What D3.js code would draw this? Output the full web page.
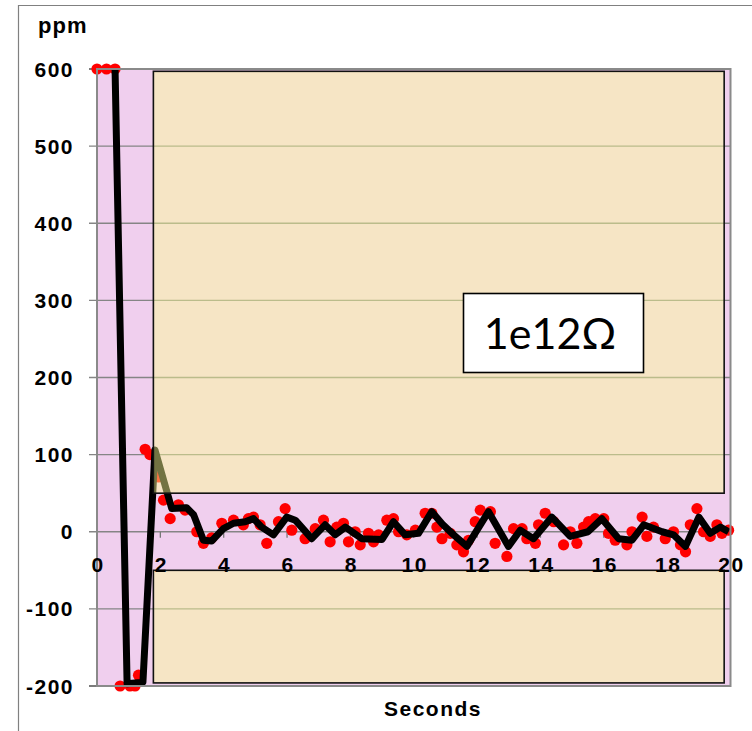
<!DOCTYPE html>
<html><head><meta charset="utf-8">
<script src="https://cdn.jsdelivr.net/npm/d3@7"></script>
<style>html,body{margin:0;padding:0;background:#fff;}svg{display:block;}</style>
</head><body>
<svg id="chart" width="752" height="731"></svg>
<script>
// ---- data ----
const yTicks = [-200, -100, 0, 100, 200, 300, 400, 500, 600];
const xTicks = [0, 2, 4, 6, 8, 10, 12, 14, 16, 18, 20];
const dotTime = [0,0.3,0.57,0.73,1.04,1.2,1.31,1.52,1.67,1.94,2.1,2.31,2.57,2.78,3.15,3.36,3.62,3.94,4.31,4.62,4.78,4.94,5.15,5.36,5.73,5.94,6.15,6.57,6.89,7.15,7.36,7.57,7.78,7.94,8.15,8.31,8.57,8.73,8.89,9.15,9.36,9.52,9.78,10.05,10.36,10.57,10.73,10.89,11.15,11.36,11.57,11.73,11.94,12.1,12.42,12.57,12.94,13.15,13.42,13.57,13.84,13.94,14.15,14.42,14.73,14.94,15.15,15.36,15.52,15.73,16.0,16.15,16.36,16.73,16.89,17.21,17.36,17.57,17.94,18.2,18.42,18.58,18.73,18.94,19.15,19.36,19.57,19.73,19.94];
const dotPpm = [600,600,600,-200,-200,-200,-186,107,100,71,41,17,35,28,0,-15,-8,11,15,9,17,19,9,-15,13,30,2,-9,4,15,-13,6,11,-13,0,-17,-2,-13,-4,15,17,0,-4,2,24,24,6,-9,-2,-17,-26,-11,13,28,26,-15,-32,4,4,-9,-15,9,24,13,-17,0,-15,6,13,17,17,-2,-11,-17,0,19,-6,6,-9,0,-17,-26,9,30,0,-6,9,-2,2];
const lineTime = [0.57,0.95,1.45,1.83,2.36,2.83,3.05,3.36,3.62,3.99,4.31,4.68,4.94,5.2,5.57,5.99,6.26,6.78,7.2,7.52,7.84,8.36,9.0,9.36,9.73,10.15,10.57,10.9,11.26,11.68,12.36,12.99,13.36,13.78,14.36,14.94,15.5,15.94,16.47,16.89,17.26,17.84,18.2,18.58,19.0,19.36,19.68,19.94];
const linePpm = [600,-197,-195,106,30,31,22,-11,-12,4,11,13,17,6,-4,19,15,-9,9,-4,6,-9,-10,13,-4,-2,26,10,-4,-19,26,-19,2,-9,19,-6,0,17,-9,-11,9,0,-4,-19,19,-2,6,0];
const zoneTime = [1.78, 19.8];
const zoneUpper = [50, 597];
const zoneLower = [-196, -50];
const boxLabel = "1e12Ω";

// ---- chart ----
const svg = d3.select("#chart");
const x = d3.scaleLinear().domain([0, 20]).range([97, 730.5]);
const y = d3.scaleLinear().domain([-200, 600]).range([686, 69]);
const font = "'Liberation Sans', Arial, sans-serif";

// outer frame
svg.append("path").attr("d", "M18.5,731 V5.5 H752").attr("fill", "none").attr("stroke", "#808080").attr("stroke-width", 1.2);

// plot background
svg.append("rect").attr("x", x(0)).attr("y", y(600)).attr("width", x(20) - x(0)).attr("height", y(-200) - y(600)).attr("fill", "#f0cfee");

// gridlines with outside ticks
svg.append("g").selectAll("line").data(yTicks.filter(d => d > -200 && d < 600)).join("line")
  .attr("x1", 89).attr("x2", x(20)).attr("y1", d => y(d)).attr("y2", d => y(d))
  .attr("stroke", "#858585").attr("stroke-width", 1.3);
svg.append("g").selectAll("line").data([-200, 600]).join("line")
  .attr("x1", 89).attr("x2", x(0)).attr("y1", d => y(d)).attr("y2", d => y(d))
  .attr("stroke", "#333").attr("stroke-width", 1.3);

// x axis at zero: small ticks
svg.append("g").selectAll("line").data(xTicks.filter(d => d > 0 && d < 20)).join("line")
  .attr("x1", d => x(d)).attr("x2", d => x(d)).attr("y1", y(0)).attr("y2", y(0) + 6)
  .attr("stroke", "#777").attr("stroke-width", 1.3);

// red data points
svg.append("g").selectAll("circle").data(dotTime.map((t, i) => [t, dotPpm[i]])).join("circle")
  .attr("cx", d => x(d[0])).attr("cy", d => y(d[1])).attr("r", 5.6).attr("fill", "#ff0000");

// black line
const line = d3.line().x(d => x(d[0])).y(d => y(d[1]));
svg.append("path").datum(lineTime.map((t, i) => [t, linePpm[i]]))
  .attr("d", line).attr("fill", "none").attr("stroke", "#000").attr("stroke-width", 7)
  .attr("stroke-linejoin", "round").attr("stroke-linecap", "butt");

// translucent zones
[zoneUpper, zoneLower].forEach(z => {
  svg.append("rect").attr("x", x(zoneTime[0])).attr("y", y(z[1]))
    .attr("width", x(zoneTime[1]) - x(zoneTime[0])).attr("height", y(z[0]) - y(z[1]))
    .attr("fill", "#fdff93").attr("fill-opacity", 0.45)
    .attr("stroke", "#111").attr("stroke-width", 1.6);
});

// plot border
svg.append("rect").attr("x", x(0)).attr("y", y(600)).attr("width", x(20) - x(0)).attr("height", y(-200) - y(600))
  .attr("fill", "none").attr("stroke", "#8a8a8a").attr("stroke-width", 2);

// y tick labels
svg.append("g").selectAll("text").data(yTicks).join("text")
  .attr("x", 74).attr("y", d => y(d)).attr("dy", "0.36em").attr("text-anchor", "end")
  .attr("font-family", font).attr("font-weight", "bold").attr("font-size", 21).attr("letter-spacing", 1.5)
  .attr("fill", "#000").text(d => d);

// x tick labels
svg.append("g").selectAll("text").data(xTicks).join("text")
  .attr("x", d => x(d) + 1).attr("y", 572).attr("text-anchor", "middle")
  .attr("font-family", font).attr("font-weight", "bold").attr("font-size", 21).attr("letter-spacing", 1.5)
  .attr("fill", "#000").text(d => d);

// axis titles
svg.append("text").attr("x", 38).attr("y", 33).attr("font-family", font).attr("font-weight", "bold")
  .attr("font-size", 22).attr("letter-spacing", 1).text("ppm");
svg.append("text").attr("x", 433).attr("y", 716).attr("text-anchor", "middle").attr("font-family", font)
  .attr("font-weight", "bold").attr("font-size", 21).attr("letter-spacing", 1.5).text("Seconds");

// text box
svg.append("rect").attr("x", 463.5).attr("y", 293.5).attr("width", 180).attr("height", 79)
  .attr("fill", "#fff").attr("stroke", "#000").attr("stroke-width", 1.6);
svg.append("text").attr("x", 550).attr("y", 349).attr("text-anchor", "middle")
  .attr("font-family", "Lato, 'Open Sans', sans-serif").attr("font-size", 43).attr("fill", "#000").text(boxLabel);
</script>
</body></html>
